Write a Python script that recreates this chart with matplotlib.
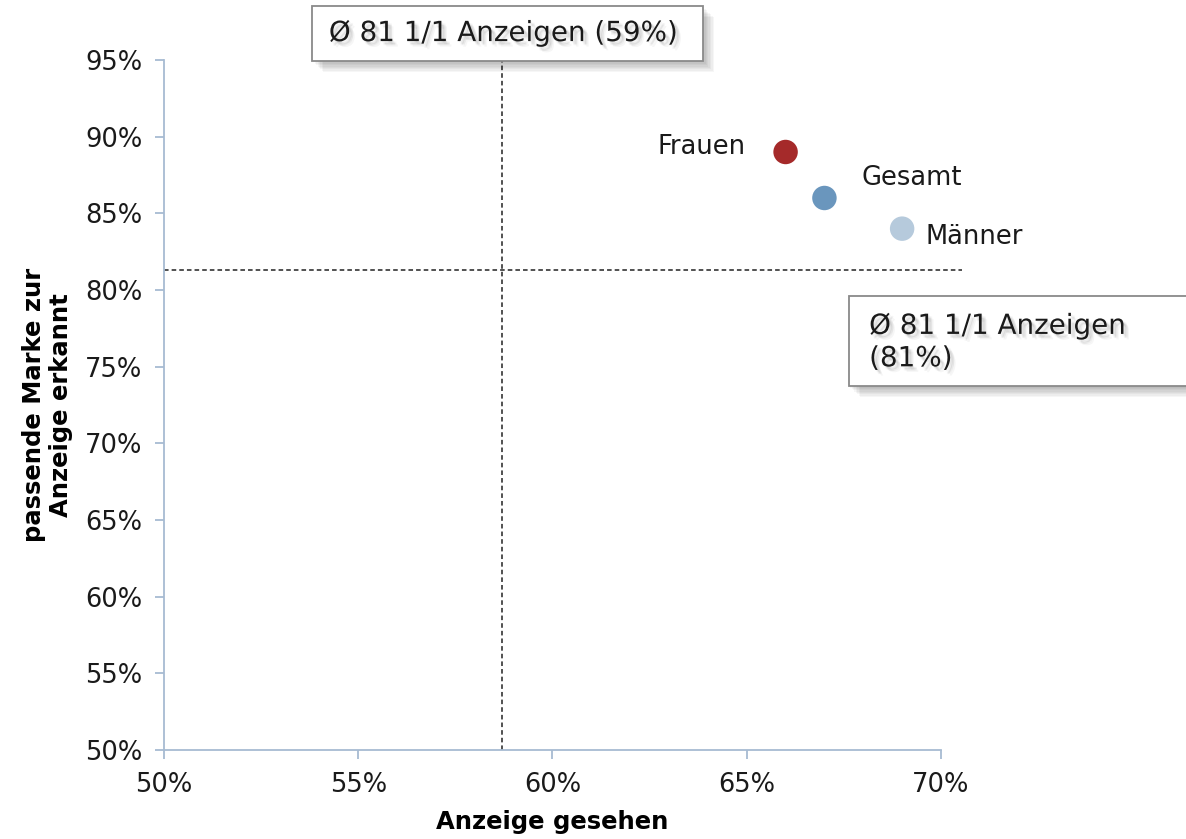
import matplotlib
matplotlib.use("Agg")
import matplotlib.pyplot as plt
import matplotlib.patheffects as pe
from matplotlib.patches import Rectangle
from matplotlib.ticker import FuncFormatter, MultipleLocator

plt.rcParams['font.family'] = ['DejaVu Sans']

# Data
groups = ["Frauen", "Gesamt", "Männer"]
seen = [0.66, 0.67, 0.69]          # Anzeige gesehen
recognized = [0.89, 0.86, 0.84]    # passende Marke zur Anzeige erkannt
colors = ["#A52A2A", "#6A96BD", "#B6CADC"]
avg_seen = 0.587
avg_recognized = 0.813
avg_label = "Ø 81 1/1 Anzeigen"

fig = plt.figure(figsize=(11.86, 8.39), dpi=100)
ax = fig.add_axes([0.1383, 0.1061, 0.6551, 0.8224])

ax.set_xlim(0.50, 0.70)
ax.set_ylim(0.50, 0.95)
ax.xaxis.set_major_locator(MultipleLocator(0.05))
ax.yaxis.set_major_locator(MultipleLocator(0.05))
pct = FuncFormatter(lambda v, _: f"{v*100:.0f}%")
ax.xaxis.set_major_formatter(pct)
ax.yaxis.set_major_formatter(pct)

axis_col = "#A7BBD2"
for s in ("top", "right"):
    ax.spines[s].set_visible(False)
for s in ("left", "bottom"):
    ax.spines[s].set_color(axis_col)
    ax.spines[s].set_linewidth(1.3)
ax.tick_params(axis="both", direction="out", length=6.5, width=1.3, color=axis_col,
               labelsize=18.5, labelcolor="#1a1a1a")
ax.tick_params(axis="x", pad=9)
ax.tick_params(axis="y", pad=9)

# Average reference lines
ax.plot([avg_seen, avg_seen], [0.50, 0.95], ls=(0, (3, 2)), color="#222222", lw=1.1,
        clip_on=False, zorder=2)
ax.plot([0.50, 0.7055], [avg_recognized, avg_recognized], ls=(0, (3, 2)), color="#222222",
        lw=1.1, clip_on=False, zorder=2)

# Group points
for g, x, y, c in zip(groups, seen, recognized, colors):
    ax.scatter([x], [y], s=310, color=c, edgecolors="none", zorder=4)

label_pos = {
    "Frauen": dict(offset=(-29, 3.5), ha="right", va="center"),
    "Gesamt": dict(offset=(27, 14.5), ha="left", va="center"),
    "Männer": dict(offset=(17, -6), ha="left", va="center"),
}
for g, x, y in zip(groups, seen, recognized):
    p = label_pos[g]
    ax.annotate(g, (x, y), xytext=p["offset"], textcoords="offset points",
                ha=p["ha"], va=p["va"], fontsize=18.5, color="#1a1a1a", zorder=5)

# Shadowed annotation boxes
box_fx = [pe.SimplePatchShadow(offset=(d, -d), shadow_rgbFace="#000000", alpha=0.035)
          for d in (-1, 0, 1, 2, 3, 4, 5, 6, 7, 8)] + [pe.Normal()]
text_fx = [pe.SimplePatchShadow(offset=o, shadow_rgbFace="#000000", alpha=0.035)
           for o in ((1, -1), (2, -2), (3, -3), (2, -3), (3, -2), (4, -4))] + [pe.Normal()]

xt = ax.get_xaxis_transform()
r1 = Rectangle((0.5381, 0.9986), 0.6387 - 0.5381, 1.0783 - 0.9986, transform=xt,
               fc="white", ec="#8a8a8a", lw=1.3, clip_on=False, zorder=5)
r1.set_path_effects(box_fx)
ax.add_patch(r1)
t1 = ax.text(avg_seen + 0.0003, 1.039, f"{avg_label} ({avg_seen*100:.0f}%)",
             transform=xt, ha="center", va="center", fontsize=20, color="#1a1a1a",
             clip_on=False, zorder=6)
t1.set_path_effects(text_fx)

r2 = Rectangle((0.6763, 0.7373), 0.82 - 0.6763, 0.7960 - 0.7373,
               fc="white", ec="#8a8a8a", lw=1.3, clip_on=False, zorder=5)
r2.set_path_effects(box_fx)
ax.add_patch(r2)
t2 = ax.text(0.6815, 0.7660, f"{avg_label}\n({avg_recognized*100:.0f}%)",
             ha="left", va="center", fontsize=20, color="#1a1a1a", clip_on=False,
             zorder=6, linespacing=1.2)
t2.set_path_effects(text_fx)

ax.set_xlabel("Anzeige gesehen", fontsize=17.5, fontweight="bold", labelpad=9)
ax.set_ylabel("passende Marke zur\nAnzeige erkannt", fontsize=17.5, fontweight="bold",
              labelpad=9, linespacing=1.15)

fig.savefig("out.png", dpi=100, facecolor="white")
